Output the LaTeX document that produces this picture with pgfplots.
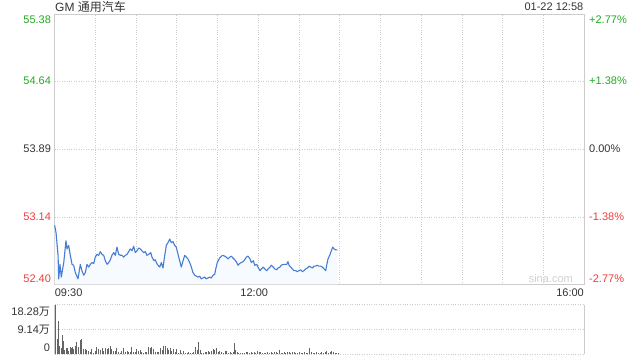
\documentclass[border=0pt]{standalone}
\usepackage{pgfplots}
\pgfplotsset{compat=1.18}
\usepackage{fontspec}
\setmainfont{Liberation Sans}
\newfontfamily\cjk{Noto Sans CJK SC}
\definecolor{upgreen}{RGB}{34,170,34}
\definecolor{downred}{RGB}{240,60,60}
\definecolor{txt}{RGB}{51,51,51}
\definecolor{gridc}{RGB}{204,204,204}
\definecolor{linec}{RGB}{70,125,210}
\definecolor{fillc}{RGB}{247,250,254}
\definecolor{volc}{RGB}{100,100,100}
\definecolor{wm}{RGB}{208,208,208}
\newcommand{\tf}{\fontsize{11}{13}\selectfont}
\pgfplotstableread{
m p
0 53.05
1.0 52.97
2.5 52.72
3.0 52.46
3.9 52.62
4.9 52.48
6.7 52.64
8.3 52.88
9.1 52.79
10.3 52.83
11.5 52.72
12.8 52.62
14.0 52.61
15.2 52.53
17.2 52.46
18.9 52.62
20.1 52.55
21.4 52.50
22.6 52.53
23.8 52.62
25.1 52.59
26.3 52.62
27.5 52.64
28.8 52.63
29.9 52.70
31.2 52.73
32.4 52.72
33.6 52.76
34.9 52.73
36.1 52.72
37.3 52.66
38.6 52.62
39.8 52.64
41.0 52.67
42.2 52.72
43.5 52.75
44.7 52.72
45.9 52.81
47.2 52.73
48.4 52.72
49.6 52.72
50.9 52.70
52.0 52.72
53.3 52.73
54.5 52.76
55.7 52.79
57.0 52.77
58.2 52.82
59.4 52.75
60.7 52.77
61.9 52.80
63.1 52.79
64.3 52.77
65.6 52.75
66.8 52.76
68.0 52.72
69.3 52.73
70.8 52.75
71.7 52.70
73.2 52.66
74.1 52.67
75.6 52.62
77.4 52.59
78.6 52.64
79.8 52.58
81.1 52.72
82.3 52.83
83.5 52.86
84.8 52.90
85.9 52.86
87.2 52.87
88.4 52.83
89.6 52.81
90.9 52.73
92.1 52.66
93.3 52.59
94.6 52.66
95.8 52.72
97.0 52.70
98.2 52.68
99.5 52.64
100.7 52.59
101.9 52.53
103.2 52.50
104.4 52.49
105.6 52.48
106.9 52.49
108.0 52.46
109.3 52.47
110.5 52.48
111.7 52.46
113.0 52.47
114.2 52.48
115.4 52.47
116.7 52.50
117.9 52.51
118.7 52.57
119.8 52.64
121.6 52.69
122.8 52.71
124.0 52.72
125.3 52.71
126.5 52.70
127.7 52.68
129.0 52.70
130.1 52.71
131.4 52.69
132.7 52.67
133.8 52.65
135.1 52.61
136.3 52.63
137.5 52.64
138.8 52.65
140.0 52.67
141.2 52.70
142.5 52.71
143.9 52.68
144.9 52.64
146.4 52.66
147.4 52.61
148.9 52.62
149.8 52.59
151.3 52.55
152.3 52.57
153.7 52.59
154.8 52.57
156.2 52.55
157.2 52.57
158.7 52.59
159.6 52.61
161.1 52.59
162.1 52.57
163.6 52.56
164.6 52.58
166.0 52.59
167.0 52.61
168.5 52.62
169.5 52.62
171.0 52.62
171.9 52.65
172.7 52.61
173.9 52.59
175.1 52.57
176.3 52.55
177.6 52.55
178.8 52.54
180.0 52.55
181.3 52.56
182.5 52.54
183.7 52.55
185.0 52.57
186.2 52.58
187.4 52.60
188.7 52.59
189.8 52.58
191.1 52.60
192.3 52.60
193.5 52.61
194.8 52.60
196.0 52.60
197.2 52.59
198.5 52.57
199.7 52.55
200.4 52.61
201.4 52.68
202.9 52.73
203.8 52.77
204.9 52.81
205.8 52.79
207.1 52.78
208.3 52.78
}\pricetab
\pgfplotstableread{
m v
0.3 18.28
2.0 5.52
2.7 12.27
3.4 3.07
4.9 2.21
5.7 7.12
6.4 4.91
7.4 1.60
8.4 2.21
9.1 2.45
10.3 1.35
11.3 2.58
12.3 2.21
13.3 2.82
14.2 1.84
15.2 3.19
16.2 4.66
17.2 2.82
18.9 5.28
20.1 5.64
21.4 1.84
22.6 1.84
23.8 1.60
25.1 1.35
26.3 0.98
27.5 1.84
28.7 0.37
29.9 1.35
30.9 2.58
32.4 1.84
33.6 1.60
34.9 2.21
36.1 1.35
37.3 2.21
38.6 1.96
39.8 2.21
41.0 3.07
42.2 1.84
43.5 1.35
44.7 1.35
45.9 2.21
47.1 0.98
48.4 0.61
49.6 1.35
50.8 2.21
52.1 0.98
53.3 1.35
54.5 0.98
55.7 0.74
56.9 2.58
58.2 0.98
59.4 0.98
60.6 1.84
61.9 1.35
63.1 1.60
64.3 0.98
65.5 0.37
66.8 0.98
68.0 0.98
69.2 2.58
70.5 2.21
71.7 2.58
72.9 1.84
74.2 0.98
75.4 0.98
76.6 0.98
77.9 2.21
79.1 1.60
80.3 3.07
81.5 3.07
82.8 2.21
84.0 1.60
85.2 2.21
86.4 1.35
87.7 1.84
88.9 0.98
90.1 1.84
91.4 0.61
92.6 1.60
93.8 0.37
95.0 1.35
96.3 0.61
97.5 0.37
98.7 0.74
100.0 0.61
101.2 0.61
102.4 0.74
104.1 2.58
105.4 1.60
106.3 4.66
107.1 1.60
108.3 0.61
109.5 0.61
110.8 0.98
112.0 0.74
113.2 1.35
114.4 0.98
115.7 1.35
116.9 1.84
118.1 1.60
119.4 2.21
120.6 0.98
121.8 1.35
123.0 0.98
124.3 0.61
125.5 1.35
126.7 1.35
128.0 0.61
129.2 0.98
130.4 0.37
131.6 0.98
132.4 4.29
133.4 1.60
134.6 0.74
135.8 0.61
137.0 0.61
138.3 0.37
139.7 0.61
141.0 0.74
142.2 0.98
143.4 0.37
144.7 0.74
145.9 0.61
147.1 0.98
148.3 0.37
149.6 1.35
150.8 0.74
152.0 0.98
153.3 0.37
154.5 0.61
155.7 0.37
157.0 0.74
158.2 0.61
159.4 0.98
160.6 0.37
161.9 0.74
163.1 0.98
164.3 0.61
165.5 1.60
166.8 0.61
168.0 0.37
169.2 0.74
170.4 0.37
171.7 0.98
172.9 0.74
174.1 0.61
175.4 0.98
176.6 0.74
177.8 0.37
179.0 0.61
180.3 0.74
181.5 0.37
182.7 0.61
184.0 0.98
185.2 0.37
186.4 0.61
188.1 2.21
189.4 0.98
190.6 0.61
191.8 0.37
193.0 0.74
194.3 0.37
195.5 0.61
196.7 0.74
198.0 0.37
199.2 0.74
200.4 1.35
201.6 0.37
202.9 0.74
204.1 1.23
205.3 0.98
206.6 0.61
207.8 0.61
209.0 0.37
}\voltab
\begin{document}
\begin{tikzpicture}
\path[use as bounding box] (0pt,0pt) rectangle (640pt,360pt);
\node[anchor=west, inner sep=0, text=txt, font=\fontsize{12}{14}\selectfont] at (55pt,352.7pt) {GM {\cjk 通用汽车}};
\node[anchor=east, inner sep=0, text=txt, font=\tf] at (583.5pt,353pt) {01-22 12:58};
\begin{axis}[at={(54.67pt,75.7pt)}, anchor=south west, width=529.33pt, height=270.3pt, scale only axis,
  xmin=0, xmax=390, ymin=52.40, ymax=55.38,
  xtick={30,60,...,360}, ytick={53.14,53.89,54.64},
  xticklabels={}, yticklabels={}, tick style={draw=none},
  grid=major, grid style={gridc, dotted, line width=0.7pt},
  axis line style={gridc, line width=0.8pt}, clip=false]
\addplot[draw=none, fill=fillc] table[x=m, y=p] {\pricetab} \closedcycle;
\addplot[linec, line width=1.1pt, line join=round] table[x=m, y=p] {\pricetab};
\node[anchor=north east, inner sep=0, text=upgreen, font=\tf, xshift=-3.5pt, yshift=-2pt] at (axis cs:0,55.38) {55.38};
\node[anchor=east, inner sep=0, text=upgreen, font=\tf, xshift=-3.5pt] at (axis cs:0,54.64) {54.64};
\node[anchor=east, inner sep=0, text=txt, font=\tf, xshift=-3.5pt] at (axis cs:0,53.89) {53.89};
\node[anchor=east, inner sep=0, text=downred, font=\tf, xshift=-3.5pt] at (axis cs:0,53.14) {53.14};
\node[anchor=south east, inner sep=0, text=downred, font=\tf, xshift=-3.5pt, yshift=1.5pt] at (axis cs:0,52.40) {52.40};
\node[anchor=north west, inner sep=0, text=upgreen, font=\tf, xshift=5pt, yshift=-2pt] at (axis cs:390,55.38) {+2.77\%};
\node[anchor=west, inner sep=0, text=upgreen, font=\tf, xshift=5pt] at (axis cs:390,54.64) {+1.38\%};
\node[anchor=west, inner sep=0, text=txt, font=\tf, xshift=5pt] at (axis cs:390,53.89) {0.00\%};
\node[anchor=west, inner sep=0, text=downred, font=\tf, xshift=5pt] at (axis cs:390,53.14) {-1.38\%};
\node[anchor=south west, inner sep=0, text=downred, font=\tf, xshift=5pt, yshift=1.5pt] at (axis cs:390,52.40) {-2.77\%};
\node[anchor=north west, inner sep=0, text=txt, font=\tf, yshift=-4pt] at (axis cs:0,52.40) {09:30};
\node[anchor=north, inner sep=0, text=txt, font=\tf, yshift=-4pt, xshift=-4pt] at (axis cs:150,52.40) {12:00};
\node[anchor=north east, inner sep=0, text=txt, font=\tf, yshift=-4pt] at (axis cs:390,52.40) {16:00};
\node[anchor=south east, inner sep=0, text=wm, font=\tf, xshift=-11pt, yshift=1pt] at (axis cs:390,52.40) {sina.com};
\end{axis}
\begin{axis}[at={(54.67pt,5.7pt)}, anchor=south west, width=529.33pt, height=49.8pt, scale only axis,
  xmin=0, xmax=390, ymin=0, ymax=18.28,
  xtick=\empty, ytick={0,9.14,18.28}, yticklabels={}, tick style={draw=none},
  ymajorgrids, grid style={gridc, dotted, line width=0.9pt},
  axis line style={draw=none}, clip=false]
\draw[gridc, line width=0.8pt] (rel axis cs:0,0) -- (rel axis cs:0,1);
\draw[gridc, line width=0.8pt] (rel axis cs:1,0) -- (rel axis cs:1,1);
\addplot[ycomb, volc, line width=1pt] table[x=m, y=v] {\voltab};
\node[anchor=north east, inner sep=0, text=txt, font=\tf, xshift=-4.5pt, yshift=-2.5pt] at (axis cs:0,18.28) {18.28{\cjk 万}};
\node[anchor=east, inner sep=0, text=txt, font=\tf, xshift=-4.5pt] at (axis cs:0,9.14) {9.14{\cjk 万}};
\node[anchor=south east, inner sep=0, text=txt, font=\tf, xshift=-4.5pt, yshift=2pt] at (axis cs:0,0) {0};
\end{axis}
\end{tikzpicture}
\end{document}
